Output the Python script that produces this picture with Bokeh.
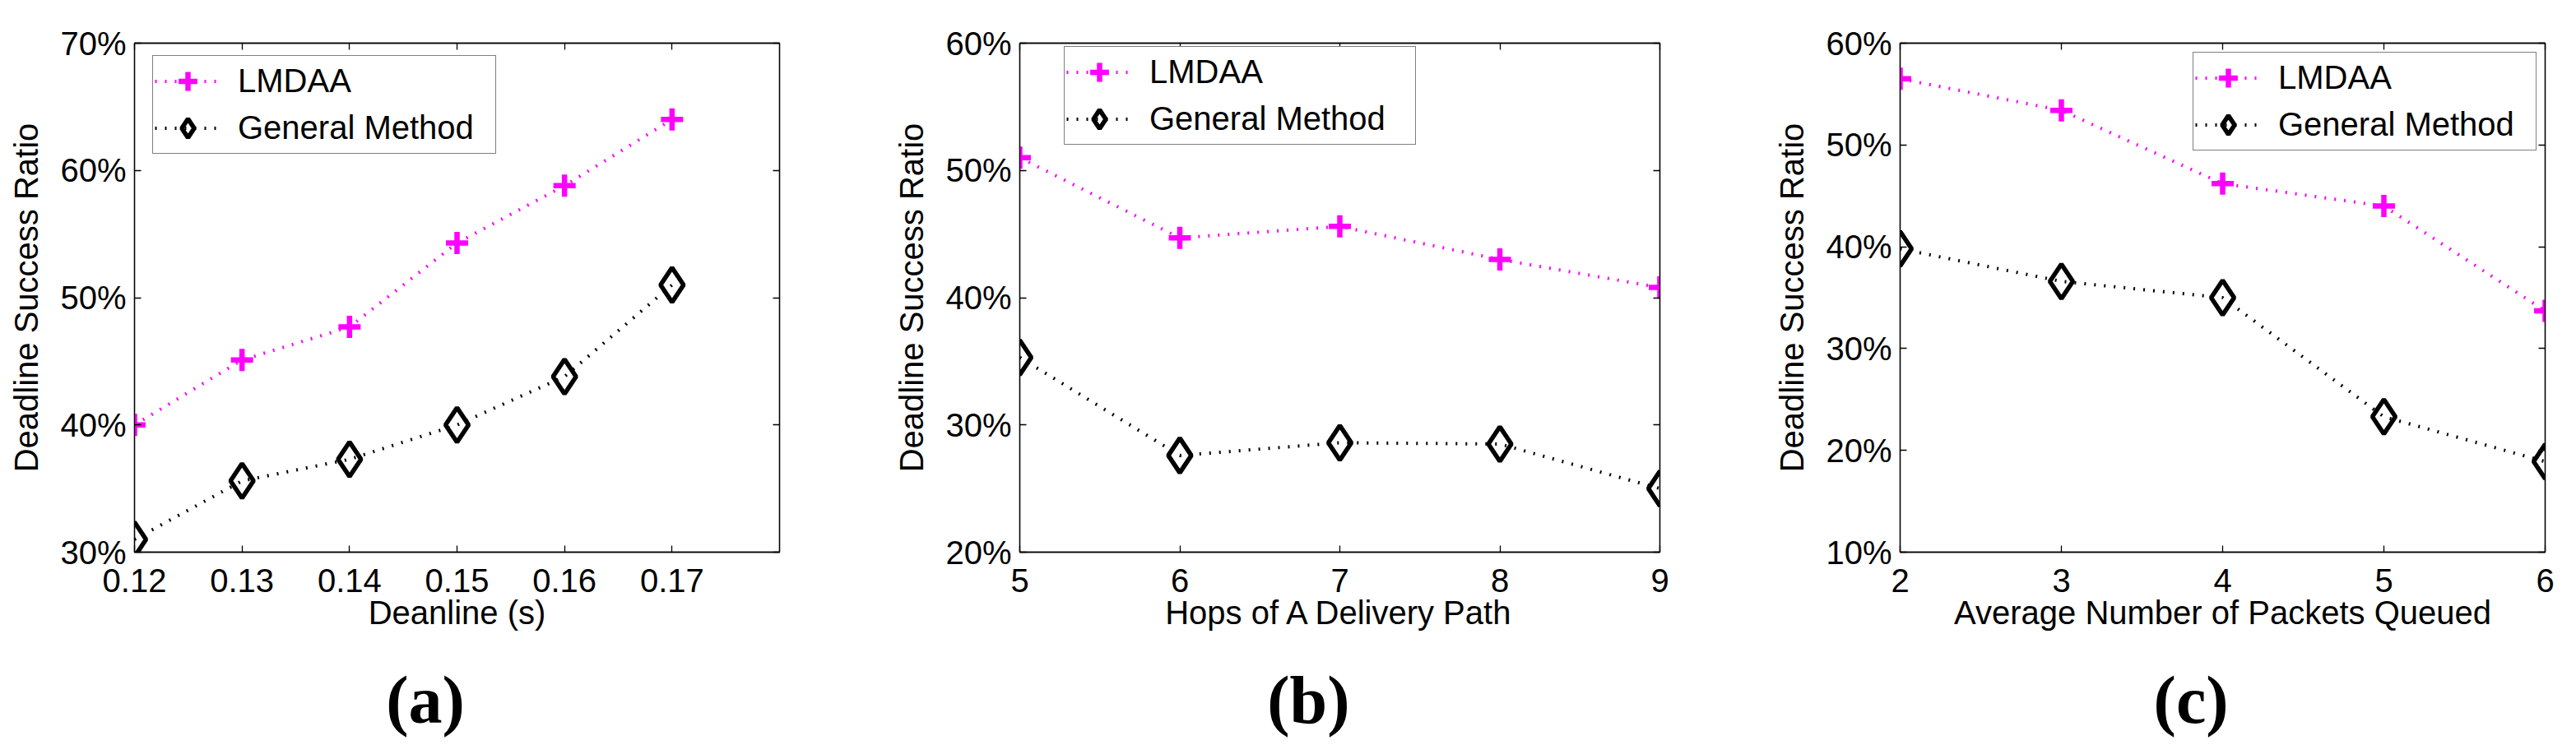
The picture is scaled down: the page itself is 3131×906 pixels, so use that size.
from bokeh.plotting import figure
from bokeh.layouts import row
from bokeh.models import (Range1d, LinearAxis, FixedTicker, PrintfTickFormatter,
                          Legend, LegendItem)
from bokeh.embed import file_html
from bokeh.resources import INLINE

# ---------------- data ----------------
a_x = [0.12, 0.13, 0.14, 0.15, 0.16, 0.17]
a_lmdaa = [40.0, 45.1, 47.7, 54.3, 58.8, 64.0]
a_general = [31.0, 35.6, 37.3, 40.0, 43.8, 51.0]

b_x = [5, 6, 7, 8, 9]
b_lmdaa = [51.0, 44.7, 45.6, 43.0, 40.8]
b_general = [35.3, 27.6, 28.6, 28.5, 25.0]

c_x = [2, 3, 4, 5, 6]
c_lmdaa = [56.5, 53.4, 46.2, 44.0, 33.7]
c_general = [39.8, 36.6, 35.0, 23.3, 18.9]

a_xticks = [0.12, 0.13, 0.14, 0.15, 0.16, 0.17]
a_yticks = [30, 40, 50, 60, 70]
b_xticks = [5, 6, 7, 8, 9]
b_yticks = [20, 30, 40, 50, 60]
c_xticks = [2, 3, 4, 5, 6]
c_yticks = [10, 20, 30, 40, 50, 60]

series_names = ["LMDAA", "General Method"]
y_title = "Deadline Success Ratio"
x_titles = ["Deanline (s)", "Hops of A Delivery Path", "Average Number of Packets Queued"]
captions = ["(a)", "(b)", "(c)"]

FONT = "Liberation Sans"
SERIF = "Liberation Serif"
MAGENTA = "#FF00FF"
FS = "40px"
H = 906
CAP_FRAC = 0.451   # horizontal place of the sub-caption, as a fraction of the frame


def style_axis(ax, ticks):
    ax.ticker = FixedTicker(ticks=ticks)
    ax.major_tick_in = 8
    ax.major_tick_out = 0
    ax.minor_tick_line_color = None
    ax.axis_line_color = "black"
    ax.axis_line_width = 1.3
    ax.major_tick_line_width = 1.3


def panel(xs, lm, gm, xr, yr, xticks, yticks, xlabel, width, bl, br, bt, bb,
          leg_xy, label_w, cap):
    p = figure(width=width, height=H, x_range=Range1d(*xr), y_range=Range1d(*yr),
               output_backend="svg", toolbar_location=None,
               min_border_left=bl, min_border_right=br,
               min_border_top=bt, min_border_bottom=bb)
    p.grid.visible = False
    p.outline_line_color = "black"
    p.outline_line_width = 1.3
    p.background_fill_color = "white"
    p.border_fill_color = "white"

    for ax, ticks in ((p.xaxis[0], xticks), (p.yaxis[0], yticks)):
        style_axis(ax, ticks)
        ax.major_label_text_font = FONT
        ax.major_label_text_font_size = FS
        ax.major_label_text_color = "black"
        ax.axis_label_text_font = FONT
        ax.axis_label_text_font_size = FS
        ax.axis_label_text_font_style = "normal"
        ax.axis_label_text_color = "black"
    p.yaxis[0].formatter = PrintfTickFormatter(format="%d%%")
    p.xaxis[0].axis_label = xlabel
    p.yaxis[0].axis_label = y_title
    p.xaxis[0].major_label_standoff = 20
    p.xaxis[0].axis_label_standoff = 0
    p.yaxis[0].major_label_standoff = 10
    p.yaxis[0].axis_label_standoff = 16

    # mirrored ticks on top and right
    for place, ticks in (("above", xticks), ("right", yticks)):
        ax = LinearAxis(major_label_overrides={t: "" for t in ticks})
        style_axis(ax, ticks)
        ax.major_label_standoff = 0
        ax.major_label_text_font_size = "1px"
        p.add_layout(ax, place)

    # sub-caption "(a)" etc., as the single label of an extra bottom axis
    cap_x = xr[0] + CAP_FRAC * (xr[1] - xr[0])
    cap_ax = LinearAxis(ticker=FixedTicker(ticks=[cap_x]),
                        major_label_overrides={cap_x: cap})
    cap_ax.major_tick_in = 0
    cap_ax.major_tick_out = 0
    cap_ax.major_tick_line_color = None
    cap_ax.minor_tick_line_color = None
    cap_ax.axis_line_color = None
    cap_ax.major_label_text_font = SERIF
    cap_ax.major_label_text_font_size = "82px"
    cap_ax.major_label_text_font_style = "bold"
    cap_ax.major_label_text_color = "black"
    cap_ax.major_label_standoff = 36
    p.add_layout(cap_ax, "below")

    l1 = p.line(xs, lm, line_color=MAGENTA, line_width=4, line_dash="2 10")
    s1 = p.scatter(xs, lm, marker="cross", size=27, line_color=MAGENTA, line_width=6.5)
    l2 = p.line(xs, gm, line_color="black", line_width=4, line_dash="2 10")
    s2 = p.scatter(xs, gm, marker="diamond", size=42, line_color="black",
                   line_width=5.5, fill_color=None)

    leg = Legend(items=[LegendItem(label=series_names[0], renderers=[l1, s1]),
                        LegendItem(label=series_names[1], renderers=[l2, s2])],
                 location=leg_xy)
    leg.label_text_font = FONT
    leg.label_text_font_size = FS
    leg.label_text_color = "black"
    leg.glyph_width = 80
    leg.glyph_height = 57
    leg.label_height = 40
    leg.label_width = label_w
    leg.label_standoff = 21
    leg.spacing = 0
    leg.padding = 2
    leg.margin = 0
    leg.border_line_color = "black"
    leg.border_line_width = 1.3
    leg.background_fill_color = "white"
    leg.background_fill_alpha = 1.0
    p.add_layout(leg)
    return p


pa = panel(a_x, a_lmdaa, a_general, (0.12, 0.18), (30, 70), a_xticks, a_yticks,
           x_titles[0], 1080, 163, 133, 52, 232, (22, 484), 311, captions[0])
pb = panel(b_x, b_lmdaa, b_general, (5, 9), (20, 60), b_xticks, b_yticks,
           x_titles[1], 1070, 159, 133, 35, 235, (54, 495), 321, captions[1])
pc = panel(c_x, c_lmdaa, c_general, (2, 6), (10, 60), c_xticks, c_yticks,
           x_titles[2], 981, 159, 38, 52, 232, (356, 488), 311, captions[2])

layout = row(pa, pb, pc)
open("out.html", "w").write(file_html(layout, INLINE))
